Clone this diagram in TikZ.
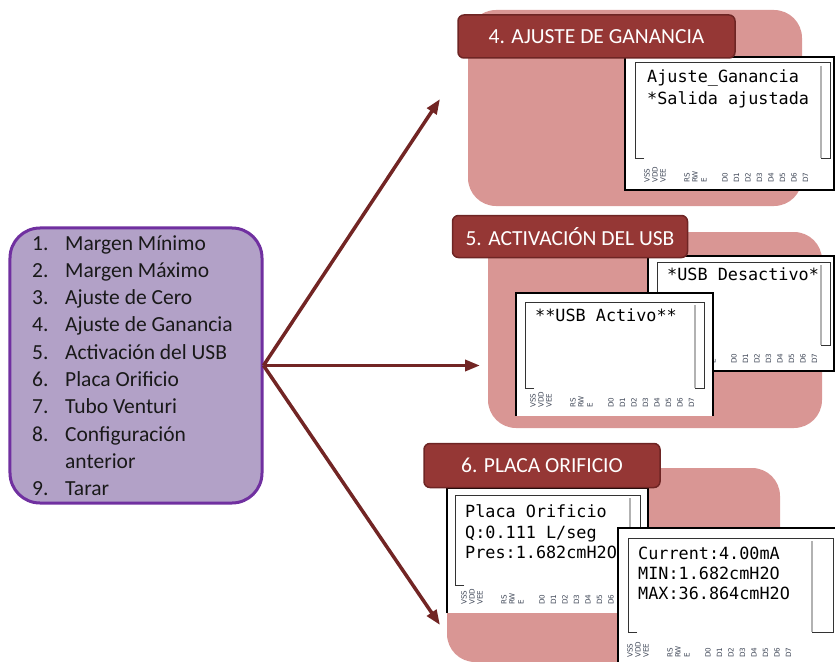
\documentclass[tikz,border=0pt]{standalone}
\usepackage{fontspec}
\setmainfont{Carlito}
\newfontfamily\lcdfont{DejaVu Sans Mono}
\newfontfamily\pinfont{DejaVu Sans}
\usetikzlibrary{arrows.meta}
\definecolor{pinkpanel}{HTML}{D99694}
\definecolor{tabred}{HTML}{953735}
\definecolor{tabborder}{HTML}{6E2524}
\definecolor{menufill}{HTML}{B2A1C7}
\definecolor{menuborder}{HTML}{7030A0}
\definecolor{arrowred}{HTML}{722524}
\definecolor{pingray}{HTML}{404858}
\tikzset{
  panel/.style={fill=pinkpanel, rounded corners=28bp},
  tabbox/.style={fill=tabred, draw=tabborder, line width=1.5bp, rounded corners=6bp, text=white,
    font=\fontsize{21.5bp}{24bp}\selectfont, inner sep=0pt},
  lcdframe/.style={fill=white, draw=black, line width=1.1bp},
  lcdline/.style={draw=black!80, line width=1bp},
  lcdbar/.style={draw=black!30, line width=1.2bp},
  lcdtext/.style={anchor=base west, inner sep=0pt, font=\lcdfont\fontsize{16.8bp}{20bp}\selectfont},
  pinlabel/.style={rotate=90, anchor=west, inner sep=0pt, text=pingray, font=\pinfont\fontsize{7.2bp}{8bp}\selectfont},
  menuitem/.style={anchor=base west, inner sep=0pt, text=black!90, font=\fontsize{21.5bp}{24bp}\selectfont},
  link/.style={draw=arrowred, line width=3.5bp, -{Triangle[length=15bp,width=11bp]}},
}
% screen of an LCD: x1 y1 x2 y2 xbar
\newcommand\lcdscreen[5]{%
  \draw[lcdline] (#1+9,#4) -- (#1,#4) -- (#1,#2) -- (#3,#2) -- (#3,#4) -- (#5,#4);
  \draw[lcdbar] (#5,#2+3) -- (#5,#4);
}
% pin labels: prefix, x, y
\newcommand\lcdpins[3]{%
  \foreach \lab/\dx [count=\k] in {VSS/0,VDD/8,VEE/16,RS/40,RW/48,E/57,D0/78,D1/89.5,D2/101,D3/112.5,D4/124,D5/135.5,D6/147,D7/158.5}
    \node[pinlabel] (#1-\k) at (#2+\dx,#3) {\lab};
}
\begin{document}
\begin{tikzpicture}[x=1bp, y=-1bp]
\useasboundingbox (0,0) rectangle (835,662);
\clip (0,0) rectangle (835,662);

% ---------- menu ----------
\node[draw=menuborder, fill=menufill, line width=3bp, rounded corners=30bp,
      minimum width=252bp, minimum height=275bp, inner sep=0pt] (menu) at (136,365.5) {};
\foreach \n/\t [count=\k from 0] in {1./Margen Mínimo,2./Margen Máximo,3./Ajuste de Cero,4./Ajuste de Ganancia,5./Activación del USB,6./Placa Orificio,7./Tubo Venturi,8./Configuración,/anterior,9./Tarar}{
  \node[menuitem] (num\k) at (32,250+27.3*\k) {\n};
  \node[menuitem] (item\k) at (65,250+27.3*\k) {\t};
}

% ---------- panel 4 ----------
\fill[panel] (468,10) rectangle (802,206);
\draw[lcdframe] (625,57) rectangle (834,190);
\lcdscreen{635}{63}{830}{158}{821}
\node[lcdtext] (g1) at (647,83) {Ajuste\_Ganancia};
\node[lcdtext] (g2) at (647,105) {*Salida ajustada};
\lcdpins{pa}{647}{183}
\node[tabbox, minimum width=277bp, minimum height=43bp] (t4) at (596.5,36.5) {4. AJUSTE DE GANANCIA};

% ---------- panel 5 ----------
\fill[panel] (488,232) rectangle (822,428);
\draw[lcdframe] (648,256) rectangle (834,371);
\lcdscreen{657}{262}{830}{345}{821}
\node[lcdtext] (u1) at (667,280) {*USB Desactivo*};
\lcdpins{pb}{656}{364}
\draw[lcdframe] (516,416) -- (516,293) -- (713,293) -- (713,416);
\lcdscreen{525}{302}{704}{388}{695}
\node[lcdtext] (u2) at (535,321) {**USB Activo**};
\lcdpins{pc}{533}{408}
\node[tabbox, minimum width=235bp, minimum height=42bp] (t5) at (570,236.5) {5. ACTIVACIÓN DEL USB};

% ---------- panel 6 ----------
\fill[panel] (447,468) rectangle (780,662);
\draw[lcdframe] (447,613) -- (447,488) -- (648,488) -- (648,613);
\lcdscreen{455}{495}{640}{585}{630}
\node[lcdtext] (o1) at (465,517) {Placa Orificio};
\node[lcdtext] (o2) at (465,538) {Q:0.111 L/seg};
\node[lcdtext] (o3) at (465,558) {Pres:1.682cmH2O};
\lcdpins{pd}{464}{605}
\draw[lcdframe] (618,664) -- (618,528) -- (836,528) -- (836,664);
\lcdscreen{628}{538}{833}{632}{812}
\node[lcdtext] (c1) at (638,559) {Current:4.00mA};
\node[lcdtext] (c2) at (638,579) {MIN:1.682cmH2O};
\node[lcdtext] (c3) at (638,599) {MAX:36.864cmH2O};
\lcdpins{pe}{630}{658}
\node[tabbox, minimum width=236bp, minimum height=44bp] (t6) at (542,465.5) {6. PLACA ORIFICIO};

% ---------- connectors ----------
\coordinate (tip4) at (440,99);
\coordinate (tip5) at (480,365.5);
\coordinate (tip6) at (440,625);
\draw[link] (menu.east) -- (tip4);
\draw[link] (menu.east) -- (tip5);
\draw[link] (menu.east) -- (tip6);
\end{tikzpicture}
\end{document}
